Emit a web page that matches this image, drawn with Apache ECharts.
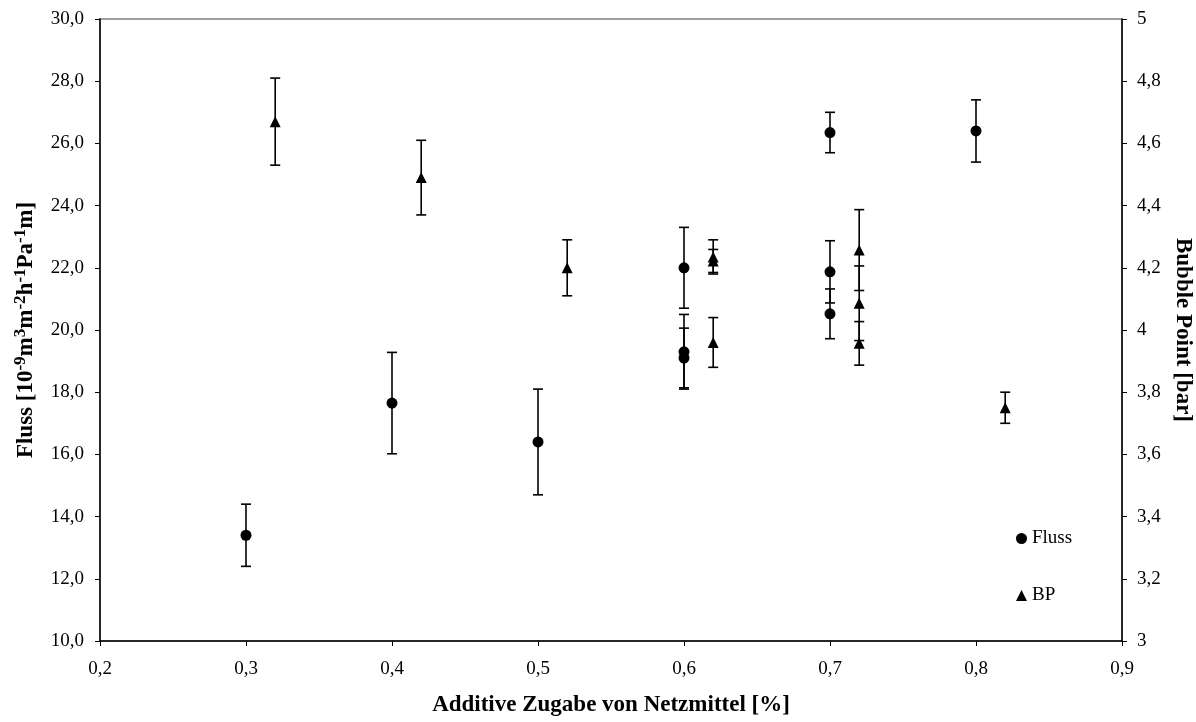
<!DOCTYPE html>
<html>
<head>
<meta charset="utf-8">
<script src="https://cdn.jsdelivr.net/npm/echarts@6/dist/echarts.min.js"></script>
<style>html,body{margin:0;padding:0;background:#fff}#c{width:1196px;height:722px}</style>
</head>
<body>
<div id="c"></div>
<script>
// Fluss (left axis)
var flussX   = [0.3, 0.4, 0.5, 0.6, 0.6, 0.6, 0.7, 0.7, 0.7, 0.8];
var flussY   = [13.4, 17.65, 16.4, 22.0, 19.3, 19.1, 26.35, 21.87, 20.52, 26.4];
var flussErr = [1.0, 1.63, 1.7, 1.3, 1.2, 0.96, 0.65, 1.0, 0.8, 1.0];
// Bubble Point (right axis)
var bpX   = [0.32, 0.42, 0.52, 0.62, 0.62, 0.62, 0.72, 0.72, 0.72, 0.82];
var bpY   = [4.67, 4.49, 4.2, 4.235, 4.222, 3.96, 4.257, 4.086, 3.957, 3.75];
var bpErr = [0.14, 0.12, 0.09, 0.055, 0.037, 0.08, 0.13, 0.12, 0.07, 0.05];
var xTicks = {min: 0.2, max: 0.9, interval: 0.1};
var leftTicks = {min: 10, max: 30, interval: 2};
var rightTicks = {min: 3, max: 5, interval: 0.2};

var FONT = '"Liberation Serif", "Times New Roman", serif';

function pairs(xs, ys, es) {
  return xs.map(function (x, i) { return [x, ys[i], es[i]]; });
}
function errRender(params, api) {
  var x = api.value(0), y = api.value(1), e = api.value(2);
  var top = api.coord([x, y + e]);
  var bot = api.coord([x, y - e]);
  var hw = 5;
  var st = {stroke: '#000', lineWidth: 1.6};
  return {
    type: 'group',
    children: [
      {type: 'line', shape: {x1: top[0], y1: top[1], x2: bot[0], y2: bot[1]}, style: st},
      {type: 'line', shape: {x1: top[0] - hw, y1: top[1], x2: top[0] + hw, y2: top[1]}, style: st},
      {type: 'line', shape: {x1: bot[0] - hw, y1: bot[1], x2: bot[0] + hw, y2: bot[1]}, style: st}
    ]
  };
}
function comma(v, digits) {
  return (digits === undefined ? String(+v.toFixed(2)) : v.toFixed(digits)).replace('.', ',');
}

var chart = echarts.init(document.getElementById('c'), null, {renderer: 'canvas'});
chart.setOption({
  animation: false,
  backgroundColor: '#fff',
  textStyle: {fontFamily: FONT, color: '#000'},
  grid: {left: 100, right: 74, top: 19, bottom: 81, show: true, borderColor: '#808080', borderWidth: 1.5,
         containLabel: false, outerBoundsMode: 'none'},
  legend: {
    orient: 'vertical', left: 1011, top: 524, itemGap: 38,
    itemWidth: 11, itemHeight: 11,
    textStyle: {fontFamily: FONT, fontSize: 19, color: '#000'},
    data: [{name: 'Fluss', icon: 'circle'}, {name: 'BP', icon: 'triangle'}]
  },
  xAxis: {
    type: 'value', min: xTicks.min, max: xTicks.max, interval: xTicks.interval,
    splitLine: {show: false},
    axisLine: {lineStyle: {color: '#000', width: 1.5}},
    axisTick: {length: 5, lineStyle: {color: '#000'}},
    axisLabel: {margin: 19, fontFamily: FONT, fontSize: 19, color: '#000', formatter: function (v) { return comma(v, 1); }},
    name: 'Additive Zugabe von Netzmittel [%]', nameLocation: 'middle', nameGap: 53,
    nameTextStyle: {fontFamily: FONT, fontSize: 23, fontWeight: 'bold', color: '#000'}
  },
  yAxis: [{
    type: 'value', min: leftTicks.min, max: leftTicks.max, interval: leftTicks.interval,
    splitLine: {show: false},
    axisLine: {show: true, lineStyle: {color: '#000', width: 1.5}},
    axisTick: {show: true, length: 5, lineStyle: {color: '#000'}},
    axisLabel: {margin: 16, fontFamily: FONT, fontSize: 19, color: '#000', formatter: function (v) { return comma(v, 1); }},
    name: 'Fluss [10{s|-9}m{s|3}m{s|-2}h{s|-1}Pa{s|-1}m]', nameLocation: 'middle', nameGap: 56, nameRotate: 90,
    nameTextStyle: {
      fontFamily: FONT, fontSize: 23, fontWeight: 'bold', color: '#000', lineHeight: 28,
      rich: {s: {fontFamily: FONT, fontSize: 17, fontWeight: 'bold', color: '#000', verticalAlign: 'top', lineHeight: 28}}
    }
  }, {
    type: 'value', position: 'right', min: rightTicks.min, max: rightTicks.max, interval: rightTicks.interval,
    splitLine: {show: false},
    axisLine: {show: true, lineStyle: {color: '#000', width: 1.5}},
    axisTick: {show: true, length: 5, lineStyle: {color: '#000'}},
    axisLabel: {margin: 15, fontFamily: FONT, fontSize: 19, color: '#000', formatter: function (v) { return comma(v); }},
    name: 'Bubble Point [bar]', nameLocation: 'middle', nameGap: 46, nameRotate: -90,
    nameTextStyle: {fontFamily: FONT, fontSize: 23, fontWeight: 'bold', color: '#000'}
  }],
  series: [
    {type: 'custom', yAxisIndex: 0, renderItem: errRender, data: pairs(flussX, flussY, flussErr), z: 2, silent: true},
    {type: 'custom', yAxisIndex: 1, renderItem: errRender, data: pairs(bpX, bpY, bpErr), z: 2, silent: true},
    {name: 'Fluss', type: 'scatter', yAxisIndex: 0, symbol: 'circle', symbolSize: 11, z: 3,
     itemStyle: {color: '#000', opacity: 1},
     data: flussX.map(function (x, i) { return [x, flussY[i]]; })},
    {name: 'BP', type: 'scatter', yAxisIndex: 1, symbol: 'triangle', symbolSize: [11, 11], z: 3,
     itemStyle: {color: '#000', opacity: 1},
     data: bpX.map(function (x, i) { return [x, bpY[i]]; })}
  ]
});
</script>
</body>
</html>
